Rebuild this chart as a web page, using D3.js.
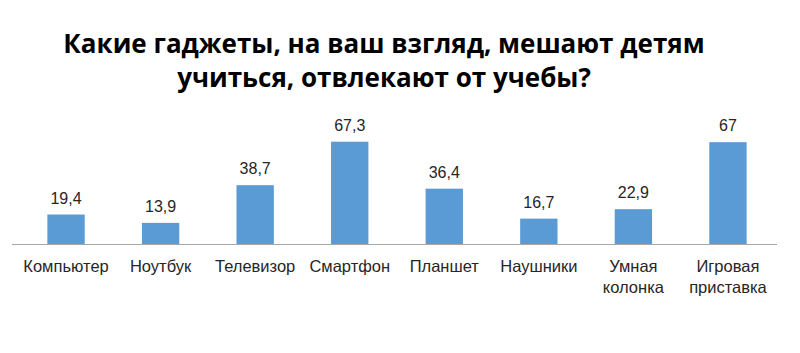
<!DOCTYPE html>
<html><head><meta charset="utf-8">
<script src="https://cdn.jsdelivr.net/npm/d3@7"></script>
<style>body{margin:0;background:#fff}svg{display:block}</style>
</head><body>
<script>
const categories = [["Компьютер"],["Ноутбук"],["Телевизор"],["Смартфон"],["Планшет"],["Наушники"],["Умная","колонка"],["Игровая","приставка"]];
const values = [19.4, 13.9, 38.7, 67.3, 36.4, 16.7, 22.9, 67];
const valueLabels = ["19,4","13,9","38,7","67,3","36,4","16,7","22,9","67"];
const titleLines = ["Какие гаджеты, на ваш взгляд, мешают детям","учиться, отвлекают от учебы?"];

const W = 800, H = 353;
const svg = d3.select("body").append("svg").attr("width", W).attr("height", H);
svg.append("rect").attr("width", W).attr("height", H).attr("fill", "#fff");

const idx = d3.range(values.length);
const x = d3.scaleBand().domain(idx).range([19, 775]).paddingInner(0.605).paddingOuter(0.3);
const y = d3.scaleLinear().domain([0, 80]).range([244, 122.4]);

svg.selectAll("text.title").data(titleLines).join("text")
  .attr("class","title")
  .attr("x", 384).attr("y", (d,i)=>53 + i*34)
  .attr("text-anchor","middle")
  .attr("font-family","'Open Sans', sans-serif").attr("font-weight","bold")
  .attr("font-size", 26).attr("fill","#000")
  .text(d=>d);

svg.selectAll("rect.bar").data(values).join("rect")
  .attr("class","bar")
  .attr("x",(d,i)=>x(i)).attr("width", x.bandwidth())
  .attr("y", d=>y(d)).attr("height", d=>y(0)-y(d))
  .attr("fill","#5B9BD5");

svg.append("line").attr("x1",12).attr("x2",777).attr("y1",y(0)+0.5).attr("y2",y(0)+0.5)
  .attr("stroke","#A6A6A6").attr("stroke-width",1);

svg.selectAll("text.val").data(values).join("text")
  .attr("class","val")
  .attr("x",(d,i)=>x(i)+x.bandwidth()/2).attr("y", d=>y(d)-11)
  .attr("text-anchor","middle")
  .attr("font-family","'Liberation Sans', Arial, sans-serif")
  .attr("font-size",16).attr("fill","#262626")
  .text((d,i)=>valueLabels[i]);

const cat = svg.selectAll("text.cat").data(categories).join("text")
  .attr("class","cat")
  .attr("x",(d,i)=>x(i)+x.bandwidth()/2).attr("y", 272)
  .attr("text-anchor","middle")
  .attr("font-family","'Liberation Sans', Arial, sans-serif")
  .attr("font-size",16.5).attr("fill","#262626");
cat.selectAll("tspan").data((d,i)=>d.map(t=>({t,i}))).join("tspan")
  .attr("x",d=>x(d.i)+x.bandwidth()/2)
  .attr("dy",(d,j)=>j===0?0:21)
  .text(d=>d.t);
</script>
</body></html>
